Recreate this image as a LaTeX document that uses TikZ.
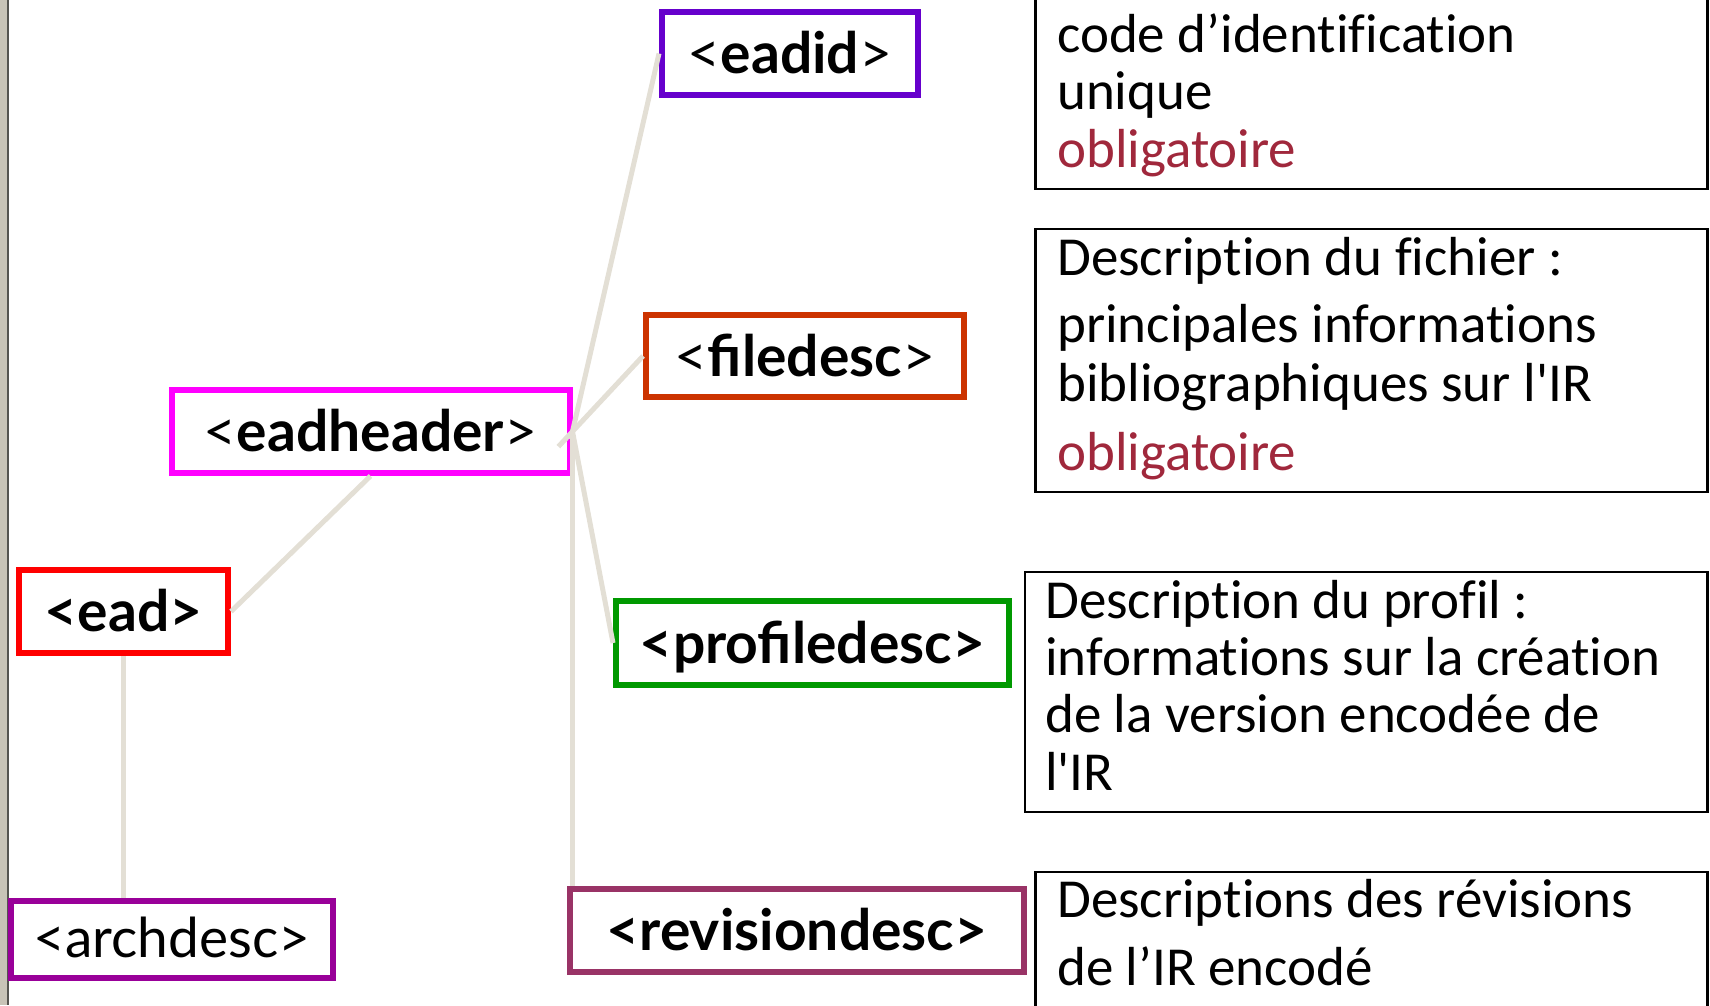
\documentclass[tikz,border=0pt]{standalone}
\usepackage{fontspec}
\usetikzlibrary{calc}
\newfontfamily\tagfont{Lato}
\newfontfamily\descfont{Carlito}[Ligatures=NoCommon]
\definecolor{cEadid}{RGB}{102,0,204}
\definecolor{cFile}{RGB}{204,51,0}
\definecolor{cHeader}{RGB}{255,0,255}
\definecolor{cEad}{RGB}{255,0,0}
\definecolor{cArch}{RGB}{153,0,153}
\definecolor{cProfile}{RGB}{0,153,0}
\definecolor{cRevision}{RGB}{153,51,102}
\definecolor{cLink}{RGB}{227,223,213}
\definecolor{cOblig}{RGB}{160,40,60}
\definecolor{cStrip}{RGB}{200,196,183}
\definecolor{cStripDark}{RGB}{85,85,80}
\begin{document}
\begin{tikzpicture}[x=1pt,y=-1pt,
  tagbox/.style={draw, line width=6pt, fill=white, inner sep=0pt,
    text height=40pt, text depth=0pt,
    font=\tagfont\fontsize{57}{64}\selectfont},
  descbox/.style={draw=black, line width=2.5pt},
  dline/.style={anchor=base west, inner sep=0pt,
    font=\descfont\fontsize{55}{60}\selectfont},
  oblig/.style={dline, text=cOblig},
  link/.style={draw=cLink, line width=5pt}
]
\useasboundingbox (0,0) rectangle (1710,1005);
% left strip
\fill[cStrip] (0,0) rectangle (7,1005);
\draw[cStripDark, line width=2pt] (8,0) -- (8,1005);

% tag nodes
\node[tagbox, draw=cEadid, minimum width=256pt, minimum height=83pt] (eadid) at (790,53.5) {<\bfseries eadid\mdseries>};
\node[tagbox, draw=cFile, minimum width=318pt, minimum height=82pt] (filedesc) at (805,356) {<\bfseries filedesc\mdseries>};
\node[tagbox, draw=cHeader, minimum width=398pt, minimum height=83pt] (eadheader) at (370.5,431.5) {<\bfseries eadheader\mdseries>};
\node[tagbox, draw=cEad, minimum width=209pt, minimum height=83pt] (ead) at (123.5,611.5) {\bfseries <ead>};
\node[tagbox, draw=cArch, minimum width=322pt, minimum height=77pt, text height=35pt, font=\tagfont\fontsize{55}{62}\selectfont] (archdesc) at (172,939.5) {<archdesc>};
\node[tagbox, draw=cProfile, minimum width=393pt, minimum height=84pt] (profiledesc) at (812.5,643) {\bfseries <profiledesc>};
\node[tagbox, draw=cRevision, minimum width=454pt, minimum height=83pt] (revisiondesc) at (797,930.5) {\bfseries <revisiondesc>};

% description boxes
\draw[descbox] (1035.5,-10) rectangle (1707.5,189);
\draw[descbox] (1035.5,229) rectangle (1707.5,492);
\draw[descbox] (1025,572) rectangle (1707.5,812);
\draw[descbox] (1035.5,872) rectangle (1707.5,1020);

% description texts
\node[dline] (d1a) at (1057,52) {code d’identification};
\node[dline] (d1b) at (1057,109) {unique};
\node[oblig] (d1c) at (1057,167) {obligatoire};
\node[dline] (d2a) at (1057,275) {Description du fichier :};
\node[dline] (d2b) at (1057,342) {principales informations};
\node[dline] (d2c) at (1057,401) {bibliographiques sur l'IR};
\node[oblig] (d2d) at (1057,470) {obligatoire};
\node[dline] (d3a) at (1045,618) {Description du profil :};
\node[dline] (d3b) at (1045,675) {informations sur la création};
\node[dline] (d3c) at (1045,732) {de la version encodée de};
\node[dline] (d3d) at (1045,790) {l'IR};
\node[dline] (d4a) at (1057,917) {Descriptions des révisions};
\node[dline] (d4b) at (1057,985) {de l’IR encodé};

% connectors
\coordinate (hub) at (eadheader.east);
\draw[link] (ead.south) -- (ead.south |- archdesc.north);
\draw[link] (ead.east) -- (eadheader.south);
\draw[link] (eadid.west) -- ($(eadid.west)!1.02!(hub)$);
\draw[link] (filedesc.west) -- ($(filedesc.west)!1.2!(hub)$);
\draw[link] (hub) -- (profiledesc.west);
\draw[link] (hub) -- (hub |- revisiondesc.north);
\end{tikzpicture}
\end{document}
